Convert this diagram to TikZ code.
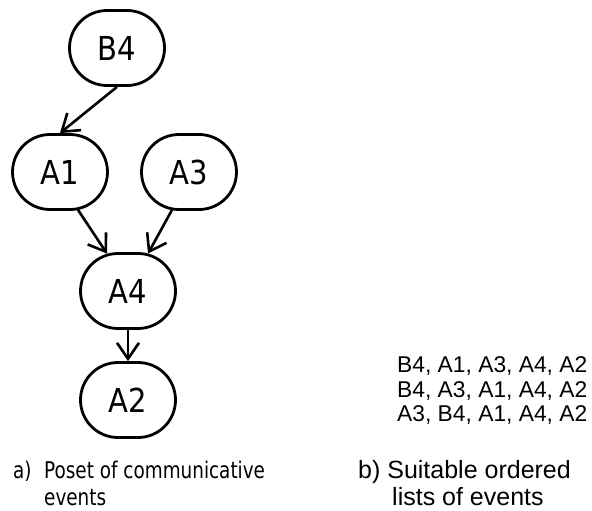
\documentclass[tikz,border=0pt]{standalone}
\usepackage{fontspec}
\setmainfont{Liberation Sans}
\newfontfamily\condfont{DejaVu Sans}[FakeStretch=0.88]
\newfontfamily\capfont{DejaVu Sans}[FakeStretch=0.8]
\usetikzlibrary{shapes.misc,arrows.meta,calc}
\tikzset{
  ev/.style={rounded rectangle, draw=black, line width=2.8pt, minimum width=95pt,
    minimum height=75pt, inner sep=0pt, font=\condfont\fontsize{33}{38}\selectfont},
  conn/.style={line width=2.6pt, -{Straight Barb[length=16pt,width=22pt]}},
  lst/.style={anchor=base west, inner sep=0pt, font=\fontsize{22.8}{27}\selectfont},
  capb/.style={anchor=base west, inner sep=0pt, font=\fontsize{25}{30}\selectfont},
  capa/.style={anchor=base west, inner sep=0pt, font=\capfont\fontsize{23}{28}\selectfont}
}
\begin{document}
\begin{tikzpicture}[x=1pt,y=-1pt]
\useasboundingbox (0,0) rectangle (592,511);
\node[ev] (B4) at (117,48) {B4};
\node[ev] (A1) at (60,172) {A1};
\node[ev] (A3) at (189,172) {A3};
\node[ev] (A4) at (128,291) {A4};
\node[ev] (A2) at (128,400) {A2};
\draw[conn] (B4.south) -- (A1.north);
\draw[conn] ($(A1.south)+(18,-1)$) -- ($(A4.north)+(-21,1.5)$);
\draw[conn] ($(A3.south)+(-17,-1)$) -- ($(A4.north)+(20,1.5)$);
\draw[conn] (A4.south) -- (A2.north);
\node[lst] (l1) at (397,372.5) {B4, A1, A3, A4, A2};
\node[lst] (l2) at (397,397) {B4, A3, A1, A4, A2};
\node[lst] (l3) at (397,421.5) {A3, B4, A1, A4, A2};
\node[capa] (ca) at (13,478) {a)};
\node[capa] (ca1) at (44,478) {Poset of communicative};
\node[capa] (ca2) at (44,505) {events};
\node[capb] (cb1) at (358,478) {b) Suitable ordered};
\node[capb] (cb2) at (392,505) {lists of events};
\end{tikzpicture}
\end{document}
